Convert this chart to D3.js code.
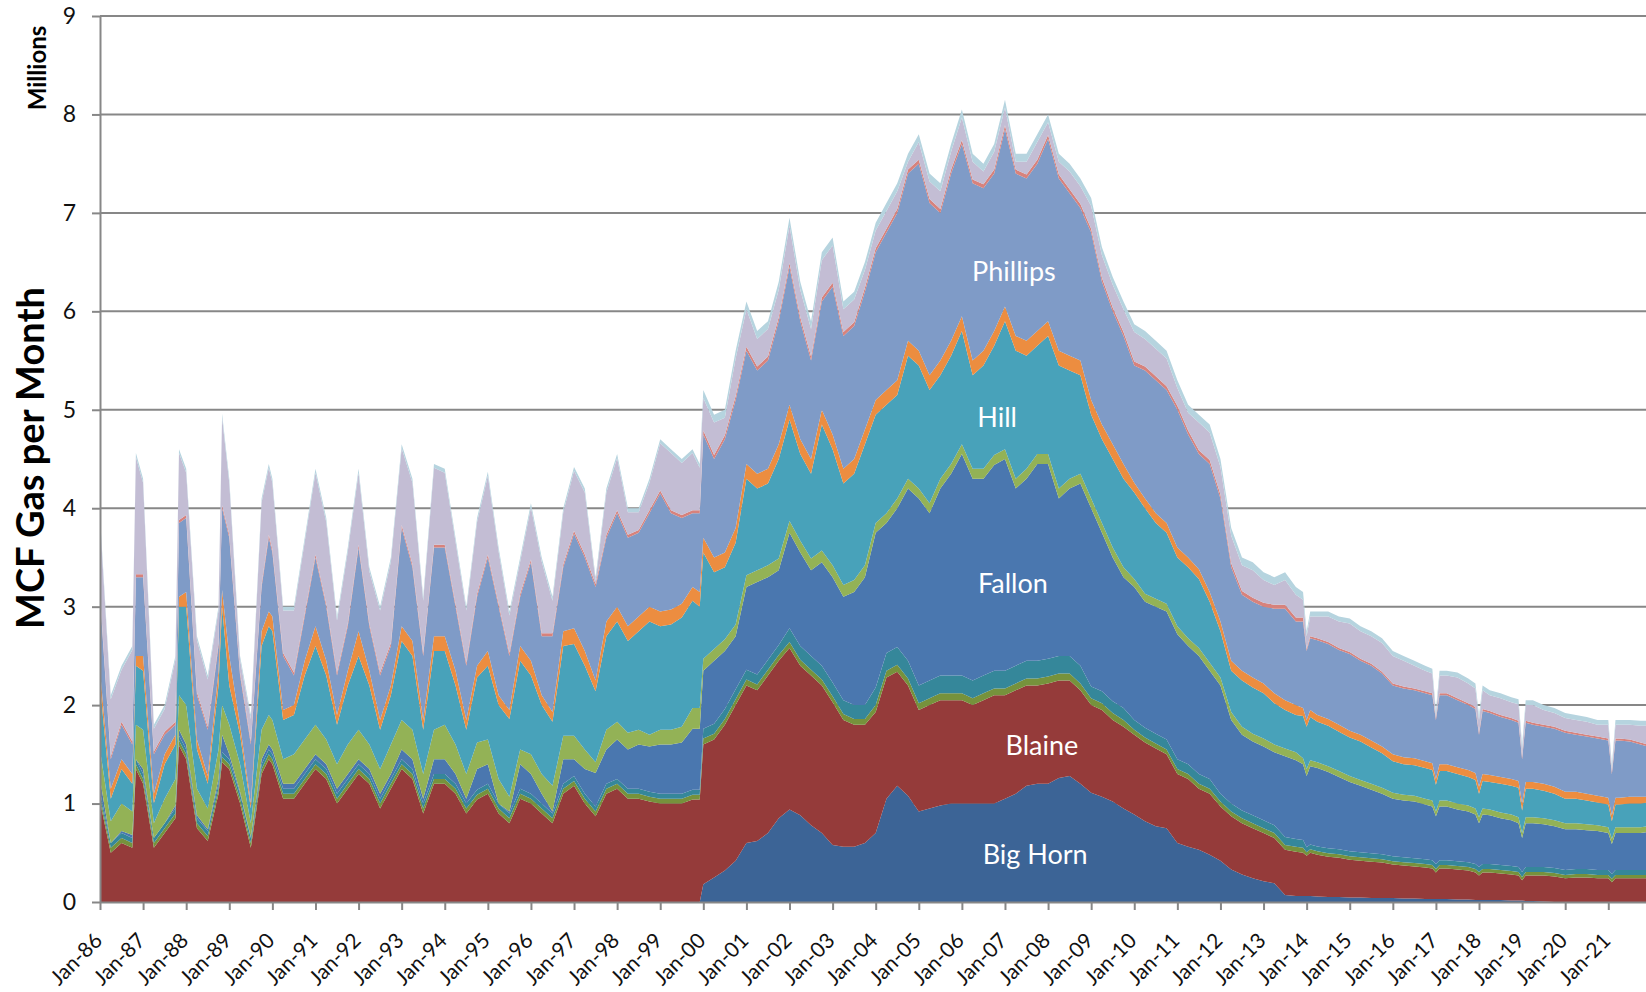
<!DOCTYPE html>
<html>
<head>
<meta charset="utf-8">
<script src="https://cdn.jsdelivr.net/npm/d3@7/dist/d3.min.js"></script>
<style>
  body { margin: 0; background: #fff; }
  svg text { font-family: Lato, "Open Sans", sans-serif; }
</style>
</head>
<body>
<svg id="chart" width="1646" height="992"></svg>
<script>
// readings, millions of MCF per month.
// mostly quarterly (Jan, Apr, Jul, Oct) plus a few extra months at spikes and dips.
// month index counted from Jan-86
const months = [
  0,3,6,9,10, 12,15,18,21,22, 24,27,30,33,34, 36,39,42,45,47,
  48,51,54,57, 60,63,66,69, 72,75,78,81, 84,87,90,93, 96,99,102,105,
  108,111,114,117, 120,123,126,129, 132,135,138,141, 144,147,150,153,
  156,159,162,165,167,
  168,171,174,177, 180,183,186,189, 192,195,198,201, 204,207,210,213,
  216,219,222,225, 228,231,234,237, 240,243,246,249, 252,255,258,261,
  264,267,270,273, 276,279,282,285, 288,291,294,297, 300,303,306,309,
  312,315,318,321,
  324,327,330,333,335, 336,337,339,342,345, 348,351,354,357, 360,363,366,369,371,
  372,373,375,378,381,383, 384,385,387,390,393,395, 396,397,399,402,405,
  408,411,414,417, 420,421,422,423,426,429,431
];

const yearLabels = ['Jan-86','Jan-87','Jan-88','Jan-89','Jan-90','Jan-91','Jan-92','Jan-93','Jan-94',
  'Jan-95','Jan-96','Jan-97','Jan-98','Jan-99','Jan-00','Jan-01','Jan-02','Jan-03','Jan-04','Jan-05',
  'Jan-06','Jan-07','Jan-08','Jan-09','Jan-10','Jan-11','Jan-12','Jan-13','Jan-14','Jan-15','Jan-16',
  'Jan-17','Jan-18','Jan-19','Jan-20','Jan-21'];

// top edge of each big layer (cumulative)
const bigHornTop = [
  0,0,0,0,0, 0,0,0,0,0, 0,0,0,0,0, 0,0,0,0,0,
  0,0,0,0, 0,0,0,0, 0,0,0,0, 0,0,0,0, 0,0,0,0, 0,0,0,0, 0,0,0,0, 0,0,0,0, 0,0,0,0,
  0,0,0,0,0,
  0.18,0.25,0.32,0.42, 0.6,0.62,0.7,0.85, 0.94,0.88,0.78,0.7, 0.58,0.56,0.56,0.6,
  0.7,1.05,1.18,1.08, 0.92,0.95,0.98,1.0, 1.0,1.0,1.0,1.0, 1.05,1.1,1.18,1.2,
  1.2,1.26,1.28,1.2, 1.11,1.07,1.02,0.95, 0.89,0.82,0.77,0.75, 0.6,0.56,0.53,0.48,
  0.42,0.33,0.28,0.24,
  0.21,0.19,0.07,0.06,0.06, 0.06,0.06,0.055,0.05,0.05, 0.045,0.045,0.04,0.04, 0.04,0.035,0.035,0.03,0.03,
  0.03,0.03,0.03,0.025,0.025,0.02, 0.02,0.02,0.02,0.02,0.015,0.015, 0.015,0.01,0.01,0.005,0,
  0,0,0,0, 0,0,0,0,0,0,0
];
const blaineTop = [
  1.02,0.5,0.6,0.55,1.35, 1.2,0.55,0.7,0.85,1.59, 1.45,0.75,0.62,1.1,1.42, 1.35,1.0,0.55,1.3,1.45,
  1.4,1.05,1.05,1.2, 1.35,1.25,1.0,1.15, 1.3,1.2,0.95,1.15, 1.35,1.25,0.9,1.2, 1.2,1.1,0.9,1.04,
  1.1,0.9,0.8,1.05, 1.0,0.9,0.8,1.1, 1.18,1.0,0.87,1.1, 1.15,1.05,1.05,1.02,
  1.0,1.0,1.0,1.04,1.04,
  1.6,1.65,1.8,2.0, 2.2,2.15,2.3,2.45, 2.58,2.4,2.3,2.2, 2.03,1.85,1.8,1.8,
  1.93,2.28,2.34,2.2, 1.95,2.0,2.05,2.05, 2.05,2.0,2.05,2.1, 2.1,2.15,2.2,2.2,
  2.22,2.25,2.25,2.15, 2.0,1.95,1.85,1.78, 1.7,1.62,1.56,1.5, 1.3,1.25,1.15,1.1,
  0.97,0.87,0.8,0.75,
  0.7,0.65,0.53,0.51,0.5, 0.47,0.5,0.48,0.46,0.45, 0.43,0.42,0.41,0.4, 0.38,0.37,0.36,0.35,0.34,
  0.3,0.34,0.34,0.33,0.32,0.3, 0.27,0.3,0.3,0.29,0.28,0.27, 0.22,0.27,0.27,0.27,0.26,
  0.24,0.25,0.25,0.24, 0.24,0.2,0.24,0.24,0.24,0.24,0.24
];
const fallonTop = [
  1.25,0.6,0.72,0.68,1.45, 1.35,0.65,0.8,0.98,1.75, 1.6,0.88,0.74,1.25,1.7, 1.5,1.12,0.66,1.45,1.6,
  1.55,1.2,1.2,1.35, 1.5,1.4,1.15,1.3, 1.45,1.35,1.1,1.3, 1.55,1.45,1.05,1.45, 1.45,1.3,1.05,1.35,
  1.4,1.0,0.92,1.4, 1.3,1.1,0.92,1.45, 1.45,1.35,1.31,1.55, 1.65,1.55,1.6,1.58,
  1.6,1.6,1.62,1.76,1.76,
  2.35,2.45,2.55,2.7, 3.2,3.25,3.3,3.37, 3.75,3.55,3.37,3.45, 3.3,3.1,3.15,3.3,
  3.75,3.85,4.0,4.2, 4.1,3.95,4.2,4.35, 4.55,4.3,4.3,4.44, 4.5,4.2,4.3,4.45,
  4.45,4.1,4.2,4.25, 4.0,3.75,3.5,3.3, 3.2,3.05,3.0,2.95, 2.72,2.6,2.5,2.35,
  2.2,1.85,1.7,1.63,
  1.58,1.52,1.48,1.44,1.4, 1.28,1.38,1.36,1.32,1.27, 1.22,1.18,1.14,1.1, 1.05,1.03,1.02,0.99,0.97,
  0.87,0.97,0.97,0.94,0.92,0.89, 0.8,0.89,0.88,0.85,0.83,0.8, 0.65,0.8,0.8,0.79,0.77,
  0.74,0.74,0.73,0.72, 0.7,0.59,0.7,0.7,0.7,0.7,0.71
];
const greenTop = [
  1.55,0.82,1.0,0.92,1.8, 1.75,0.8,1.05,1.25,2.1, 2.0,1.15,0.95,1.55,2.0, 1.8,1.4,0.8,1.75,1.9,
  1.85,1.45,1.5,1.65, 1.8,1.65,1.4,1.6, 1.75,1.6,1.35,1.6, 1.85,1.75,1.3,1.75, 1.8,1.6,1.3,1.62,
  1.65,1.25,1.07,1.55, 1.5,1.3,1.18,1.69, 1.69,1.55,1.42,1.75, 1.83,1.72,1.75,1.7,
  1.75,1.75,1.78,1.97,1.97,
  2.47,2.57,2.67,2.82, 3.32,3.37,3.42,3.49, 3.87,3.67,3.49,3.57, 3.42,3.22,3.27,3.42,
  3.85,3.95,4.1,4.3, 4.2,4.05,4.3,4.45, 4.65,4.4,4.4,4.54, 4.6,4.3,4.4,4.55,
  4.55,4.2,4.3,4.35, 4.1,3.85,3.6,3.4, 3.28,3.13,3.08,3.03, 2.8,2.68,2.58,2.43,
  2.28,1.93,1.78,1.71,
  1.66,1.6,1.56,1.52,1.46, 1.35,1.44,1.42,1.38,1.33, 1.28,1.24,1.2,1.16, 1.11,1.09,1.08,1.05,1.03,
  0.92,1.03,1.03,1.0,0.98,0.95, 0.86,0.95,0.94,0.91,0.89,0.86, 0.7,0.86,0.86,0.85,0.83,
  0.8,0.8,0.79,0.78, 0.76,0.64,0.76,0.76,0.76,0.76,0.77
];
const hillTop = [
  2.2,1.05,1.35,1.2,2.4, 2.35,1.0,1.4,1.6,3.0, 3.0,1.55,1.2,2.2,3.0, 2.2,1.7,0.95,2.6,2.8,
  2.75,1.85,1.9,2.3, 2.6,2.3,1.8,2.2, 2.5,2.2,1.75,2.1, 2.65,2.5,1.75,2.55, 2.55,2.2,1.75,2.28,
  2.4,2.0,1.86,2.45, 2.3,2.0,1.83,2.6, 2.62,2.4,2.14,2.7, 2.85,2.65,2.75,2.85,
  2.8,2.82,2.89,3.06,3.0,
  3.55,3.35,3.4,3.65, 4.3,4.2,4.25,4.5, 4.9,4.55,4.35,4.85, 4.6,4.25,4.35,4.65,
  4.95,5.05,5.15,5.55, 5.45,5.2,5.35,5.55, 5.8,5.35,5.45,5.65, 5.9,5.6,5.55,5.65,
  5.75,5.45,5.4,5.35, 4.95,4.7,4.5,4.3, 4.16,4.0,3.85,3.75, 3.5,3.4,3.28,3.05,
  2.75,2.35,2.25,2.18,
  2.12,2.02,1.95,1.9,1.89, 1.78,1.88,1.83,1.79,1.73, 1.67,1.63,1.57,1.51, 1.43,1.4,1.39,1.36,1.34,
  1.19,1.33,1.33,1.3,1.27,1.24, 1.1,1.23,1.22,1.2,1.18,1.16, 0.93,1.15,1.15,1.13,1.1,
  1.05,1.05,1.03,1.01, 0.99,0.82,0.99,0.99,1.0,1.0,1.01
];
const orangeTop = [
  2.35,1.15,1.45,1.3,2.5, 2.5,1.1,1.5,1.7,3.1, 3.15,1.65,1.28,2.35,3.17, 2.5,1.8,1.0,2.75,2.95,
  2.9,1.95,2.0,2.45, 2.8,2.45,1.9,2.35, 2.75,2.35,1.85,2.2, 2.8,2.65,1.85,2.7, 2.7,2.35,1.85,2.4,
  2.55,2.1,1.95,2.6, 2.45,2.1,1.93,2.75, 2.78,2.55,2.25,2.85, 3.0,2.8,2.9,3.0,
  2.95,2.97,3.03,3.2,3.15,
  3.7,3.5,3.55,3.8, 4.45,4.35,4.4,4.65, 5.05,4.7,4.5,5.0, 4.75,4.4,4.5,4.8,
  5.1,5.2,5.3,5.7, 5.6,5.35,5.5,5.7, 5.95,5.5,5.6,5.8, 6.05,5.75,5.7,5.8,
  5.9,5.6,5.55,5.5, 5.1,4.85,4.65,4.45, 4.26,4.1,3.95,3.85, 3.6,3.5,3.38,3.15,
  2.85,2.45,2.35,2.28,
  2.22,2.12,2.05,2.0,1.97, 1.85,1.95,1.9,1.86,1.8, 1.74,1.7,1.64,1.58, 1.5,1.47,1.46,1.43,1.41,
  1.25,1.4,1.4,1.37,1.34,1.31, 1.17,1.3,1.29,1.27,1.25,1.23, 1.0,1.22,1.22,1.2,1.17,
  1.12,1.12,1.1,1.08, 1.06,0.88,1.06,1.06,1.07,1.07,1.07
];
const phillipsTop = [
  3.1,1.45,1.8,1.6,3.3, 3.3,1.5,1.7,1.8,3.85, 3.9,2.1,1.75,2.6,4.0, 3.7,2.3,1.6,3.2,3.7,
  3.55,2.5,2.3,2.9, 3.5,3.0,2.3,2.8, 3.6,2.8,2.3,2.6, 3.8,3.4,2.5,3.6, 3.6,3.0,2.4,3.1,
  3.5,3.0,2.5,3.1, 3.45,2.7,2.7,3.4, 3.74,3.5,3.2,3.7, 3.95,3.7,3.75,3.95,
  4.15,3.95,3.9,3.95,3.95,
  4.75,4.5,4.7,5.1, 5.6,5.4,5.5,5.9, 6.45,5.9,5.5,6.1, 6.25,5.75,5.85,6.2,
  6.6,6.8,7.0,7.4, 7.5,7.1,7.0,7.4, 7.7,7.3,7.25,7.4, 7.85,7.4,7.35,7.5,
  7.75,7.35,7.2,7.05, 6.8,6.3,6.0,5.75, 5.45,5.4,5.3,5.2, 5.0,4.75,4.55,4.45,
  4.1,3.4,3.12,3.05,
  3.0,2.98,2.98,2.85,2.85, 2.55,2.68,2.66,2.62,2.56, 2.52,2.45,2.4,2.32, 2.2,2.17,2.15,2.12,2.1,
  1.85,2.1,2.1,2.05,2.0,1.96, 1.7,1.94,1.92,1.88,1.85,1.82, 1.45,1.82,1.8,1.78,1.76,
  1.72,1.7,1.68,1.66, 1.64,1.3,1.64,1.64,1.63,1.6,1.58
];
const totalTop = [
  3.92,2.1,2.4,2.6,4.56, 4.3,1.8,2.0,2.5,4.6, 4.4,2.7,2.3,3.0,4.96, 4.3,2.5,1.9,4.1,4.45,
  4.3,3.0,3.0,3.7, 4.4,3.9,2.9,3.6, 4.4,3.4,3.0,3.5, 4.65,4.3,3.1,4.45, 4.4,3.7,3.0,3.9,
  4.37,3.6,2.95,3.5, 4.05,3.5,3.1,4.0, 4.42,4.2,3.3,4.2, 4.55,4.0,4.0,4.3,
  4.7,4.6,4.5,4.6,4.45,
  5.2,4.95,5.0,5.6, 6.1,5.8,5.9,6.3, 6.95,6.3,5.9,6.6, 6.75,6.1,6.2,6.5,
  6.9,7.1,7.3,7.6, 7.8,7.4,7.3,7.7, 8.05,7.6,7.5,7.7, 8.15,7.6,7.6,7.8,
  8.0,7.6,7.5,7.35, 7.15,6.65,6.35,6.1, 5.87,5.8,5.7,5.6, 5.3,5.05,4.95,4.85,
  4.5,3.8,3.5,3.45,
  3.35,3.3,3.35,3.2,3.15, 2.75,2.95,2.95,2.95,2.9, 2.88,2.8,2.75,2.68, 2.55,2.5,2.45,2.4,2.37,
  1.95,2.35,2.35,2.33,2.27,2.22, 1.9,2.2,2.15,2.12,2.08,2.06, 1.6,2.05,2.05,2.0,1.97,
  1.92,1.9,1.88,1.85, 1.85,1.4,1.85,1.85,1.85,1.84,1.84
];

// thin layers, given as their own thickness
const olive = [
  0.05,0.05,0.05,0.05,0.05, 0.05,0.05,0.05,0.05,0.05, 0.05,0.05,0.05,0.05,0.05, 0.05,0.05,0.05,0.05,0.05,
  0.05,0.05,0.05,0.05, 0.05,0.05,0.05,0.05, 0.05,0.05,0.05,0.05, 0.05,0.05,0.05,0.05, 0.05,0.05,0.05,0.05,
  0.05,0.05,0.05,0.05, 0.05,0.05,0.05,0.05, 0.05,0.05,0.05,0.05, 0.05,0.05,0.05,0.05,
  0.05,0.05,0.05,0.05,0.05,
  0.06,0.06,0.06,0.06, 0.06,0.06,0.06,0.06, 0.06,0.06,0.06,0.06, 0.06,0.06,0.06,0.06,
  0.07,0.07,0.07,0.07, 0.07,0.07,0.07,0.07, 0.07,0.07,0.07,0.07, 0.07,0.07,0.07,0.07,
  0.07,0.07,0.07,0.07, 0.07,0.07,0.07,0.07, 0.05,0.05,0.05,0.05, 0.05,0.05,0.05,0.05,
  0.05,0.05,0.05,0.05,
  0.05,0.05,0.05,0.05,0.05, 0.035,0.035,0.035,0.035,0.035, 0.035,0.035,0.035,0.035, 0.035,0.035,0.035,0.035,0.035,
  0.035,0.035,0.035,0.035,0.035,0.035, 0.035,0.035,0.035,0.035,0.035,0.035, 0.035,0.035,0.035,0.035,0.035,
  0.035,0.035,0.035,0.035, 0.035,0.035,0.035,0.035,0.035,0.035,0.035
];
const darkTeal = [
  0.05,0.05,0.05,0.05,0.05, 0.05,0.05,0.05,0.05,0.05, 0.05,0.05,0.05,0.05,0.05, 0.05,0.05,0.05,0.05,0.05,
  0.05,0.05,0.05,0.05, 0.05,0.05,0.05,0.05, 0.05,0.05,0.05,0.05, 0.05,0.05,0.05,0.05, 0.05,0.05,0.05,0.05,
  0.05,0.05,0.05,0.05, 0.05,0.05,0.05,0.05, 0.05,0.05,0.05,0.05, 0.05,0.05,0.05,0.05,
  0.05,0.05,0.05,0.05,0.05,
  0.1,0.1,0.1,0.1, 0.1,0.1,0.1,0.1, 0.14,0.14,0.14,0.14, 0.14,0.14,0.14,0.14,
  0.18,0.18,0.18,0.18, 0.18,0.18,0.18,0.18, 0.18,0.18,0.18,0.18, 0.18,0.18,0.18,0.18,
  0.18,0.18,0.18,0.18, 0.12,0.12,0.12,0.12, 0.1,0.1,0.1,0.1, 0.1,0.1,0.1,0.1,
  0.08,0.08,0.08,0.08,
  0.08,0.08,0.08,0.08,0.08, 0.05,0.05,0.05,0.05,0.05, 0.05,0.05,0.05,0.05, 0.05,0.05,0.05,0.05,0.05,
  0.05,0.05,0.05,0.05,0.05,0.05, 0.05,0.05,0.05,0.05,0.05,0.05, 0.05,0.05,0.05,0.05,0.05,
  0.05,0.05,0.05,0.05, 0.05,0.05,0.05,0.05,0.05,0.05,0.05
];
const pink = [
  0.03,0.03,0.03,0.03,0.03, 0.03,0.03,0.03,0.03,0.03, 0.03,0.03,0.03,0.03,0.03, 0.03,0.03,0.03,0.03,0.03,
  0.03,0.03,0.03,0.03, 0.03,0.03,0.03,0.03, 0.03,0.03,0.03,0.03, 0.03,0.03,0.03,0.03, 0.03,0.03,0.03,0.03,
  0.03,0.03,0.03,0.03, 0.03,0.03,0.03,0.03, 0.03,0.03,0.03,0.03, 0.03,0.03,0.03,0.03,
  0.03,0.03,0.03,0.03,0.03,
  0.04,0.04,0.04,0.04, 0.04,0.04,0.04,0.04, 0.04,0.04,0.04,0.04, 0.04,0.04,0.04,0.04,
  0.04,0.04,0.04,0.04, 0.04,0.04,0.04,0.04, 0.04,0.04,0.04,0.04, 0.04,0.04,0.04,0.04,
  0.04,0.04,0.04,0.04, 0.04,0.04,0.04,0.04, 0.04,0.04,0.04,0.04, 0.04,0.04,0.04,0.04,
  0.04,0.04,0.04,0.04,
  0.04,0.04,0.04,0.04,0.04, 0.02,0.02,0.02,0.02,0.02, 0.02,0.02,0.02,0.02, 0.02,0.02,0.02,0.02,0.02,
  0.02,0.02,0.02,0.02,0.02,0.02, 0.02,0.02,0.02,0.02,0.02,0.02, 0.02,0.02,0.02,0.02,0.02,
  0.02,0.02,0.02,0.02, 0.02,0.02,0.02,0.02,0.02,0.02,0.02
];
const cyan = [
  0.04,0.04,0.04,0.04,0.04, 0.04,0.04,0.04,0.04,0.04, 0.04,0.04,0.04,0.04,0.04, 0.04,0.04,0.04,0.04,0.04,
  0.04,0.04,0.04,0.04, 0.04,0.04,0.04,0.04, 0.04,0.04,0.04,0.04, 0.04,0.04,0.04,0.04, 0.04,0.04,0.04,0.04,
  0.04,0.04,0.04,0.04, 0.04,0.04,0.04,0.04, 0.04,0.04,0.04,0.04, 0.04,0.04,0.04,0.04,
  0.04,0.04,0.04,0.04,0.04,
  0.08,0.08,0.08,0.08, 0.08,0.08,0.08,0.08, 0.08,0.08,0.08,0.08, 0.08,0.08,0.08,0.08,
  0.08,0.08,0.08,0.08, 0.08,0.08,0.08,0.08, 0.08,0.08,0.08,0.08, 0.08,0.08,0.08,0.08,
  0.08,0.08,0.08,0.08, 0.08,0.08,0.08,0.08, 0.08,0.08,0.08,0.08, 0.08,0.08,0.08,0.08,
  0.08,0.08,0.08,0.08,
  0.08,0.08,0.08,0.08,0.08, 0.05,0.05,0.05,0.05,0.05, 0.05,0.05,0.05,0.05, 0.05,0.05,0.05,0.05,0.05,
  0.05,0.05,0.05,0.05,0.05,0.05, 0.05,0.05,0.05,0.05,0.05,0.05, 0.05,0.05,0.05,0.05,0.05,
  0.05,0.05,0.05,0.05, 0.05,0.05,0.05,0.05,0.05,0.05,0.05
];

// bottom to top
const layers = [
  { key: 'bighorn', color: '#3c6496' },
  { key: 'blaine', color: '#953b3a' },
  { key: 'olive', color: '#76923c' },
  { key: 'darkteal', color: '#35879a' },
  { key: 'fallon', color: '#4a77af' },
  { key: 'green', color: '#93b256' },
  { key: 'hill', color: '#48a2ba' },
  { key: 'orange', color: '#ec8d40' },
  { key: 'phillips', color: '#7f9bc7' },
  { key: 'pink', color: '#d7827c' },
  { key: 'lavender', color: '#c3bdd4' },
  { key: 'cyan', color: '#b6d4df' }
];

// label placement in data terms: month index and value at centre of the text
const seriesLabels = [
  { text: 'Phillips', m: 254.5, v: 6.41 },
  { text: 'Hill', m: 249.8, v: 4.92 },
  { text: 'Fallon', m: 254.2, v: 3.24 },
  { text: 'Blaine', m: 262.3, v: 1.59 },
  { text: 'Big Horn', m: 260.4, v: 0.48 }
];

const columns = { bigHornTop, blaineTop, fallonTop, greenTop, hillTop, orangeTop, phillipsTop, totalTop, olive, darkTeal, pink, cyan };
Object.entries(columns).forEach(([name, arr]) => {
  if (arr.length !== months.length) throw new Error(`${name} has ${arr.length} values, expected ${months.length}`);
});

const rows = months.map((m, i) => ({
  m,
  bighorn: bigHornTop[i],
  blaine: blaineTop[i] - bigHornTop[i],
  olive: olive[i],
  darkteal: darkTeal[i],
  fallon: Math.max(0, fallonTop[i] - blaineTop[i] - olive[i] - darkTeal[i]),
  green: greenTop[i] - fallonTop[i],
  hill: hillTop[i] - greenTop[i],
  orange: orangeTop[i] - hillTop[i],
  phillips: phillipsTop[i] - orangeTop[i],
  pink: pink[i],
  lavender: Math.max(0, totalTop[i] - phillipsTop[i] - pink[i] - cyan[i]),
  cyan: cyan[i]
}));

const svg = d3.select('#chart');
const x = d3.scaleLinear().domain([0, 430.5]).range([100, 1646]);
const y = d3.scaleLinear().domain([0, 9]).range([902, 16]);
const axisGrey = '#878787';

// gridlines
svg.append('g')
  .selectAll('line')
  .data(d3.range(1, 10))
  .join('line')
  .attr('x1', x(0)).attr('x2', x(430.5))
  .attr('y1', (d) => y(d)).attr('y2', (d) => y(d))
  .attr('stroke', axisGrey)
  .attr('stroke-width', 2);

const stacked = d3.stack().keys(layers.map((l) => l.key))(rows);

const area = d3.area()
  .x((d) => x(d.data.m))
  .y0((d) => y(d[0]))
  .y1((d) => y(d[1]));

svg.append('g')
  .selectAll('path')
  .data(stacked)
  .join('path')
  .attr('fill', (d, i) => layers[i].color)
  .attr('d', area);

// y axis
const yAxis = svg.append('g')
  .attr('transform', `translate(${x(0)},0)`)
  .call(d3.axisLeft(y).tickValues(d3.range(0, 10)).tickSize(8).tickSizeOuter(0).tickPadding(16));
yAxis.select('.domain').attr('stroke', axisGrey).attr('stroke-width', 2);
yAxis.selectAll('.tick line').attr('stroke', axisGrey).attr('stroke-width', 2);
yAxis.selectAll('.tick text')
  .attr('font-size', 23)
  .attr('fill', '#111')
  .style('font-family', 'Lato, sans-serif');

// x axis
const xAxis = svg.append('g')
  .attr('transform', `translate(0,${y(0)})`)
  .call(d3.axisBottom(x)
    .tickValues(yearLabels.map((d, i) => i * 12))
    .tickFormat((d) => yearLabels[d / 12])
    .tickSize(8)
    .tickSizeOuter(0));
xAxis.select('.domain').attr('stroke', axisGrey).attr('stroke-width', 2);
xAxis.selectAll('.tick line').attr('stroke', axisGrey).attr('stroke-width', 2);
xAxis.selectAll('.tick text')
  .attr('font-size', 21)
  .attr('fill', '#111')
  .style('font-family', 'Lato, sans-serif')
  .attr('text-anchor', 'end')
  .attr('x', 0)
  .attr('y', 0)
  .attr('dy', 0)
  .attr('transform', 'translate(3,40) rotate(-45)');

// series labels
svg.append('g')
  .selectAll('text')
  .data(seriesLabels)
  .join('text')
  .attr('x', (d) => x(d.m))
  .attr('y', (d) => y(d.v))
  .attr('dy', '0.36em')
  .attr('text-anchor', 'middle')
  .attr('fill', '#fff')
  .attr('font-size', 27)
  .text((d) => d.text);

// axis titles
svg.append('text')
  .attr('transform', 'translate(44,458) rotate(-90)')
  .attr('text-anchor', 'middle')
  .attr('font-size', 38)
  .attr('font-weight', 'bold')
  .text('MCF Gas per Month');

svg.append('text')
  .attr('transform', 'translate(46,68) rotate(-90)')
  .attr('text-anchor', 'middle')
  .attr('font-size', 24)
  .attr('font-weight', 'bold')
  .text('Millions');
</script>
</body>
</html>
